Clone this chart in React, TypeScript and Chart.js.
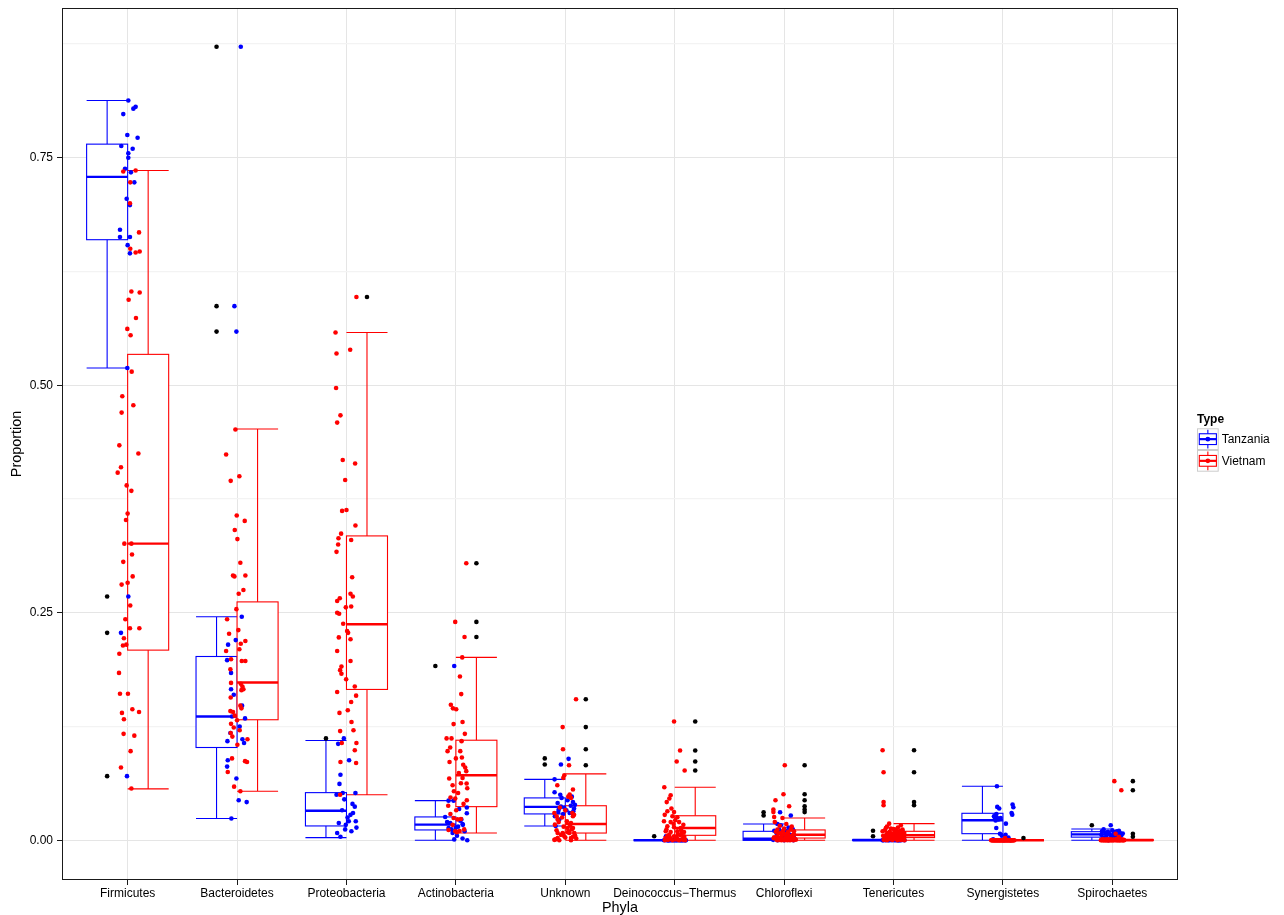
import React, { useEffect, useRef } from "react";
import { Chart, registerables } from "chart.js";

Chart.register(...registerables);

// ---------------- data ----------------
const categories = [
  "Firmicutes",
  "Bacteroidetes",
  "Proteobacteria",
  "Actinobacteria",
  "Unknown",
  "Deinococcus\u2212Thermus",
  "Chloroflexi",
  "Tenericutes",
  "Synergistetes",
  "Spirochaetes",
];
const groups = ["Tanzania", "Vietnam"];

const yMajorTicks = [0, 0.25, 0.5, 0.75];
const yTickLabels = ["0.00", "0.25", "0.50", "0.75"];
const yMinorTicks = [0.125, 0.375, 0.625, 0.875];

// box statistics (lower whisker, q1, median, q3, upper whisker)
const tzLow = [0.519, 0.024, 0.003, 0.0, 0.0158, 0, 0, 0, 0, 0];
const tzQ1 = [0.66, 0.102, 0.0158, 0.0114, 0.029, 0, 0, 0, 0.0073, 0.0035];
const tzMedian = [0.729, 0.136, 0.0325, 0.0172, 0.0367, 0, 0.0018, 0, 0.022, 0.0065];
const tzQ3 = [0.765, 0.202, 0.0524, 0.0257, 0.0466, 0, 0.0099, 0.0005, 0.0297, 0.0095];
const tzHigh = [0.813, 0.2456, 0.1097, 0.0436, 0.067, 0.0005, 0.018, 0.001, 0.0594, 0.0125];

const vnLow = [0.0565, 0.054, 0.05, 0.008, 0, 0, 0, 0, 0, 0];
const vnQ1 = [0.209, 0.1325, 0.1658, 0.037, 0.008, 0.0055, 0.0025, 0.003, 0, 0];
const vnMedian = [0.326, 0.1735, 0.2374, 0.0715, 0.018, 0.0135, 0.0062, 0.0055, 0, 0];
const vnQ3 = [0.534, 0.262, 0.3345, 0.11, 0.038, 0.027, 0.0114, 0.0099, 0, 0.0005];
const vnHigh = [0.736, 0.452, 0.558, 0.201, 0.073, 0.0583, 0.0245, 0.0183, 0, 0.001];

const tzOutliers = [
  [0.268, 0.228, 0.0705],
  [0.872, 0.587, 0.559],
  [0.112],
  [0.1915],
  [0.09, 0.0833],
  [0.0044],
  [0.0308, 0.0272],
  [0.0106, 0.0044],
  [],
  [0.0165],
];
const vnOutliers = [
  [],
  [],
  [0.597],
  [0.3045, 0.24, 0.2234],
  [0.155, 0.1244, 0.1, 0.0825],
  [0.1306, 0.0987, 0.0866, 0.0767],
  [0.0825, 0.0506, 0.044, 0.0374, 0.0338, 0.031],
  [0.099, 0.0748, 0.042, 0.0385],
  [0.0025],
  [0.065, 0.055, 0.0073, 0.004],
];

// jittered samples: [jitter (category units), proportion]
const tzFirmicutes = [
  [0.006, 0.813], [0.052, 0.804], [0.073, 0.806], [-0.04, 0.798], [-0.003, 0.775], [0.091, 0.772],
  [-0.058, 0.763], [0.046, 0.76], [0.006, 0.755], [0.006, 0.75], [-0.024, 0.738], [0.03, 0.734],
  [0.061, 0.723], [-0.009, 0.705], [0.021, 0.698], [-0.07, 0.671], [-0.07, 0.663], [0.021, 0.663],
  [0, 0.654], [0.021, 0.645], [-0.003, 0.519], [0.006, 0.268], [-0.061, 0.228], [-0.006, 0.0705],
];
const vnFirmicutes = [
  [-0.04, 0.735], [0.073, 0.736], [0.024, 0.723], [0.021, 0.7], [0.104, 0.668], [0.024, 0.65],
  [0.073, 0.646], [0.11, 0.647], [0.034, 0.603], [0.11, 0.602], [0.009, 0.594], [0.076, 0.574],
  [-0.003, 0.562], [0.027, 0.555], [0.037, 0.515], [-0.049, 0.488], [0.052, 0.478], [-0.055, 0.47],
  [-0.076, 0.434], [0.098, 0.425], [-0.061, 0.41], [-0.091, 0.404], [-0.009, 0.39], [0.034, 0.384],
  [0, 0.359], [-0.015, 0.352], [-0.03, 0.326], [0.034, 0.326], [0.04, 0.314], [-0.04, 0.306],
  [0.046, 0.29], [-0.055, 0.281], [0, 0.283], [0.024, 0.258], [-0.021, 0.243], [0.021, 0.233],
  [0.107, 0.233], [-0.034, 0.222], [-0.043, 0.214], [-0.012, 0.215], [-0.076, 0.205], [-0.079, 0.184],
  [-0.07, 0.161], [0.003, 0.161], [0.043, 0.144], [0.104, 0.141], [-0.052, 0.14], [-0.034, 0.133],
  [-0.037, 0.117], [0.061, 0.115], [0.027, 0.098], [-0.061, 0.08], [0.034, 0.057],
];
const tzBacteroidetes = [
  [0.034, 0.872], [-0.024, 0.587], [-0.006, 0.559], [0.043, 0.2456], [-0.012, 0.22], [-0.082, 0.215],
  [-0.091, 0.198], [-0.055, 0.184], [-0.03, 0.16], [-0.055, 0.166], [0.046, 0.148], [-0.046, 0.136],
  [0.073, 0.134], [0.024, 0.125], [-0.061, 0.118], [0.049, 0.111], [0.064, 0.107], [-0.088, 0.109],
  [-0.085, 0.088], [-0.091, 0.081], [-0.006, 0.068], [0.015, 0.044], [0.088, 0.042], [-0.052, 0.024],
];
const vnBacteroidetes = [
  [-0.015, 0.4515], [-0.1, 0.424], [-0.058, 0.395], [0.021, 0.4], [-0.003, 0.357], [0.07, 0.351],
  [-0.021, 0.341], [0.003, 0.331], [0.03, 0.305], [-0.037, 0.291], [-0.024, 0.29], [0.076, 0.291],
  [0.058, 0.275], [0.015, 0.271], [-0.006, 0.254], [-0.091, 0.243], [0.012, 0.231], [-0.073, 0.227],
  [0.034, 0.216], [0.076, 0.219], [-0.1, 0.208], [0.021, 0.21], [-0.055, 0.199], [0.043, 0.197],
  [0.076, 0.197], [-0.061, 0.188], [-0.055, 0.173], [0.034, 0.172], [0.049, 0.169], [0.058, 0.166],
  [0.04, 0.165], [-0.058, 0.157], [0.03, 0.148], [0.04, 0.145], [-0.061, 0.142], [-0.037, 0.141],
  [-0.021, 0.137], [0, 0.132], [-0.055, 0.128], [0.024, 0.121], [-0.03, 0.124], [-0.058, 0.118],
  [-0.043, 0.114], [0.095, 0.111], [0.003, 0.105], [-0.046, 0.09], [0.073, 0.087], [0.091, 0.086],
  [-0.085, 0.075], [-0.027, 0.059], [0.03, 0.054],
];
const tzProteobacteria = [
  [-0.024, 0.112], [-0.076, 0.106], [0.024, 0.088], [-0.055, 0.072], [-0.064, 0.062], [-0.034, 0.052],
  [-0.091, 0.05], [0.082, 0.052], [-0.02, 0.045], [0.055, 0.04], [0.076, 0.037], [-0.04, 0.033],
  [0.06, 0.03], [0.037, 0.028], [0.01, 0.025], [0.021, 0.021], [0.085, 0.021], [-0.07, 0.019],
  [-0.006, 0.017], [0.091, 0.014], [-0.012, 0.012], [0.045, 0.01], [-0.085, 0.008], [-0.055, 0.004],
];
const vnProteobacteria = [
  [0.091, 0.597], [-0.1, 0.558], [-0.091, 0.535], [0.034, 0.539], [-0.095, 0.497], [-0.055, 0.467],
  [-0.085, 0.459], [-0.034, 0.418], [0.079, 0.414], [-0.012, 0.396], [-0.04, 0.362], [0, 0.363],
  [0.082, 0.346], [-0.049, 0.337], [-0.073, 0.332], [0.043, 0.33], [-0.076, 0.325], [-0.091, 0.317],
  [0.052, 0.289], [0.037, 0.271], [0.058, 0.268], [-0.061, 0.266], [-0.085, 0.263], [-0.006, 0.256],
  [0.043, 0.257], [-0.085, 0.25], [-0.067, 0.249], [-0.03, 0.238], [0.006, 0.23], [0.015, 0.228],
  [-0.07, 0.223], [0.037, 0.221], [-0.085, 0.208], [0.037, 0.197], [-0.046, 0.191], [-0.058, 0.187],
  [-0.046, 0.183], [-0.003, 0.177], [0.076, 0.169], [-0.085, 0.163], [0.088, 0.159], [0.043, 0.152],
  [0.012, 0.143], [-0.064, 0.14], [0.046, 0.13], [-0.058, 0.12], [0.064, 0.121], [-0.043, 0.107],
  [0.091, 0.107], [0.076, 0.099], [0.088, 0.085], [-0.055, 0.086], [-0.058, 0.05],
];
const tzActinobacteria = [
  [-0.015, 0.1915], [-0.067, 0.0436], [-0.021, 0.0436], [0.03, 0.0345], [0.1, 0.036], [-0.098, 0.0257],
  [0.1, 0.0297], [0.04, 0.0216], [-0.052, 0.019], [0.061, 0.018], [-0.067, 0.0136], [0, 0.0139],
  [0.064, 0.017], [-0.04, 0.012], [0.02, 0.015], [-0.08, 0.02], [0.05, 0.023], [0.08, 0.01],
  [-0.03, 0.008], [0.01, 0.005], [-0.015, 0.001], [0.061, 0.002], [0.104, 0.0],
];
const vnActinobacteria = [
  [0.095, 0.3045], [-0.006, 0.24], [0.079, 0.2234], [0.058, 0.201], [0.037, 0.18], [0.049, 0.1607],
  [-0.046, 0.149], [-0.027, 0.145], [0.003, 0.144], [-0.021, 0.1277], [0.061, 0.13], [0.082, 0.117],
  [-0.085, 0.112], [-0.04, 0.112], [0.052, 0.109], [-0.052, 0.102], [-0.076, 0.098], [0.04, 0.098],
  [0, 0.09], [-0.058, 0.086], [0.055, 0.091], [0.067, 0.083], [0.085, 0.08], [0.027, 0.074],
  [0.095, 0.076], [0.061, 0.0686], [0.046, 0.0627], [0.098, 0.0624], [0.104, 0.0572], [-0.061, 0.068],
  [-0.03, 0.0605], [-0.018, 0.054], [0.02, 0.052], [-0.006, 0.046], [-0.049, 0.047], [0.1, 0.044],
  [0.07, 0.04], [-0.07, 0.038], [0.003, 0.033], [-0.05, 0.029], [-0.021, 0.0245], [0.015, 0.023],
  [0.046, 0.0235], [-0.03, 0.017], [0.076, 0.012], [0.034, 0.0103], [-0.067, 0.0113], [-0.006, 0.0099],
  [0.009, 0.009],
];
const tzUnknown = [
  [0.03, 0.0895], [-0.04, 0.0833], [-0.098, 0.067], [-0.098, 0.0528], [-0.046, 0.05], [0.06, 0.048],
  [-0.034, 0.0466], [0.02, 0.044], [0.07, 0.042], [-0.07, 0.041], [0.088, 0.039], [0.05, 0.038],
  [-0.04, 0.037], [-0.01, 0.036], [0.08, 0.035], [-0.06, 0.034], [0.01, 0.033], [0.073, 0.032],
  [-0.064, 0.031], [0.04, 0.03], [-0.02, 0.029], [-0.095, 0.0264], [-0.055, 0.0228], [-0.088, 0.0158],
];
const vnUnknown = [
  [0.098, 0.155], [-0.024, 0.1244], [-0.021, 0.1], [0.034, 0.0825], [-0.009, 0.0715], [-0.018, 0.0686],
  [-0.073, 0.0605], [0.07, 0.0558], [0.04, 0.0503], [0.027, 0.048], [0.052, 0.0466], [-0.05, 0.036],
  [0, 0.033], [-0.1, 0.03], [0.064, 0.03], [0.08, 0.028], [-0.079, 0.0264], [0.07, 0.0264],
  [-0.03, 0.025], [-0.07, 0.0228], [0.015, 0.021], [-0.06, 0.02], [0.052, 0.019], [-0.095, 0.0172],
  [0.045, 0.016], [-0.015, 0.015], [0.021, 0.0136], [0.07, 0.0136], [0.06, 0.012], [-0.08, 0.011],
  [0.03, 0.01], [0.025, 0.009], [-0.07, 0.008], [-0.024, 0.008], [0.037, 0.008], [0.082, 0.008],
  [-0.02, 0.007], [-0.04, 0.006], [0.09, 0.005], [-0.009, 0.0044], [0.07, 0.004], [0, 0.003],
  [-0.07, 0.0025], [0.052, 0.0025], [0.1, 0.002], [-0.09, 0.001], [-0.1, 0.0005], [-0.055, 0],
  [0.052, 0],
];
const tzDeinococcus = [
  [-0.08, 0.0044], [-0.098, 0], [-0.087, 0.0003], [-0.071, 0], [-0.064, 0], [-0.052, 0.0002],
  [-0.043, 0], [-0.031, 0], [-0.024, 0.0004], [-0.012, 0], [-0.004, 0], [0.008, 0.0002],
  [0.017, 0], [0.026, 0], [0.035, 0.0003], [0.047, 0], [0.055, 0], [0.063, 0.0001],
  [0.072, 0], [0.081, 0], [0.089, 0.0004], [0.097, 0], [0.102, 0], [-0.058, 0.0001],
];
const vnDeinococcus = [
  [-0.006, 0.1306], [0.049, 0.0987], [0.018, 0.0866], [0.091, 0.0767], [-0.095, 0.0583], [-0.037, 0.0495],
  [-0.049, 0.0459], [-0.073, 0.042], [-0.03, 0.0349], [-0.067, 0.032], [-0.006, 0.031], [-0.091, 0.028],
  [-0.021, 0.0264], [0.024, 0.0253], [0.005, 0.022], [-0.098, 0.021], [-0.037, 0.02], [0.04, 0.02],
  [-0.01, 0.018], [0.079, 0.017], [-0.067, 0.0154], [-0.006, 0.0143], [0.055, 0.0136], [-0.075, 0.012],
  [0.06, 0.011], [-0.082, 0.0099], [-0.037, 0.0092], [0.024, 0.0099], [0.085, 0.0092], [0.065, 0.008],
  [0.03, 0.007], [-0.05, 0.006], [-0.067, 0.005], [-0.006, 0.0044], [0.049, 0.0055], [0.085, 0.0044],
  [0.015, 0.0035], [-0.045, 0.003], [-0.085, 0.0025], [0.09, 0.002], [-0.037, 0.0018], [0.024, 0.0015],
  [0.07, 0.0015], [0.01, 0.001], [-0.06, 0.0005], [0.075, 0.0005], [-0.09, 0], [-0.02, 0],
  [0.04, 0], [0.095, 0],
];
const tzChloroflexi = [
  [-0.037, 0.0308], [0.061, 0.0272], [-0.061, 0.018], [-0.03, 0.0165], [0.04, 0.014], [0.08, 0.012],
  [-0.046, 0.0118], [-0.09, 0.0105], [0.02, 0.0099], [-0.07, 0.008], [0.055, 0.006], [-0.015, 0.004],
  [0.09, 0.003], [-0.08, 0.0025], [0.03, 0.002], [-0.05, 0.0018], [0.07, 0.0015], [-0.025, 0.001],
  [0.01, 0.0008], [-0.1, 0.0005], [0.045, 0.0003], [-0.06, 0], [0.085, 0], [0, 0],
];
const vnChloroflexi = [
  [0.006, 0.0825], [-0.006, 0.0506], [-0.079, 0.044], [0.046, 0.0374], [-0.098, 0.0338], [-0.098, 0.031],
  [-0.091, 0.0257], [-0.015, 0.0245], [-0.085, 0.02], [0.02, 0.018], [-0.04, 0.016], [0.07, 0.015],
  [0, 0.0128], [-0.061, 0.0118], [0.061, 0.0118], [-0.01, 0.0105], [0.09, 0.01], [-0.075, 0.0095],
  [0.035, 0.009], [-0.03, 0.008], [-0.05, 0.0075], [0.03, 0.007], [0.005, 0.0068], [0.091, 0.0062],
  [0.08, 0.0058], [-0.02, 0.0052], [0.05, 0.0047], [-0.065, 0.0042], [0.025, 0.0038], [-0.091, 0.0033],
  [-0.035, 0.003], [0.06, 0.0028], [0.015, 0.0025], [-0.095, 0.0022], [-0.046, 0.0018], [0.076, 0.0018],
  [0.1, 0.0015], [-0.005, 0.0012], [0.04, 0.001], [-0.07, 0.0008], [0.107, 0.0007], [0.015, 0.0005],
  [-0.045, 0.0003], [0.085, 0.0002], [-0.061, 0], [0, 0], [0.055, 0], [-0.025, 0], [0.03, 0],
];
const tzTenericutes = [
  [0.08, 0.0106], [-0.03, 0.0044], [-0.095, 0], [-0.07, 0.0003], [-0.05, 0], [-0.01, 0.0005],
  [0.02, 0], [0.045, 0.0002], [0.065, 0], [0.09, 0.0008], [-0.085, 0.0006], [-0.04, 0],
  [0.005, 0], [0.03, 0.0004], [0.055, 0.0001], [0.1, 0], [-0.06, 0.0009], [-0.02, 0.0002],
  [0.075, 0.0003], [-0.1, 0.0001], [0.015, 0.0007], [-0.075, 0], [0.04, 0], [0.085, 0.0005],
];
const vnTenericutes = [
  [-0.1, 0.099], [-0.091, 0.0748], [-0.091, 0.042], [-0.091, 0.0385], [-0.04, 0.0183], [0.067, 0.0165],
  [-0.06, 0.015], [0.04, 0.014], [-0.07, 0.0136], [-0.024, 0.0128], [0, 0.0125], [0.021, 0.0118],
  [0.082, 0.0118], [-0.08, 0.011], [0.06, 0.0105], [-0.1, 0.0099], [-0.035, 0.0095], [0.03, 0.009],
  [0.085, 0.0088], [-0.055, 0.008], [0.006, 0.008], [0.098, 0.008], [-0.015, 0.0075], [0.05, 0.007],
  [-0.065, 0.0065], [0.015, 0.006], [0.075, 0.0058], [-0.045, 0.0055], [-0.095, 0.005], [0.025, 0.0048],
  [-0.085, 0.0044], [-0.024, 0.0044], [0.09, 0.0042], [-0.005, 0.0038], [0.037, 0.0033], [0.098, 0.0033],
  [-0.05, 0.003], [0.055, 0.0028], [-0.075, 0.0022], [0.01, 0.002], [0.045, 0.0015], [-0.03, 0.0012],
  [0.08, 0.001], [-0.07, 0.0008], [-0.09, 0.0005], [-0.009, 0.0004], [0.067, 0.0004], [0.035, 0.0002],
  [-0.06, 0], [0.1, 0],
];
const tzSynergistetes = [
  [-0.055, 0.0594], [0.088, 0.0393], [-0.052, 0.0367], [0.095, 0.0363], [-0.034, 0.0349], [0.079, 0.03],
  [-0.06, 0.029], [0.085, 0.0282], [-0.07, 0.027], [-0.082, 0.0264], [-0.075, 0.025], [-0.052, 0.0245],
  [-0.021, 0.0245], [-0.04, 0.023], [-0.067, 0.0217], [0.027, 0.0183], [-0.061, 0.0136], [-0.027, 0.0073],
  [0.024, 0.0062], [-0.01, 0.005], [0.05, 0.003], [-0.09, 0.001], [0.01, 0], [0.07, 0],
];
const vnSynergistetes = [
  [0.02, 0.0025], [-0.108, 0], [-0.101, 0], [-0.097, 0], [-0.092, 0], [-0.086, 0], [-0.083, 0],
  [-0.079, 0], [-0.074, 0], [-0.07, 0], [-0.066, 0], [-0.061, 0], [-0.058, 0], [-0.053, 0],
  [-0.049, 0], [-0.045, 0], [-0.041, 0], [-0.036, 0], [-0.032, 0], [-0.028, 0], [-0.025, 0],
  [-0.02, 0], [-0.016, 0], [-0.012, 0], [-0.007, 0], [-0.003, 0], [0.001, 0], [0.006, 0],
  [0.009, 0], [0.014, 0], [0.018, 0], [0.023, 0], [0.027, 0], [0.031, 0], [0.035, 0],
  [0.04, 0], [0.044, 0], [0.048, 0], [0.052, 0], [0.057, 0], [0.061, 0], [0.066, 0],
  [0.07, 0], [0.074, 0], [0.078, 0], [0.083, 0], [0.087, 0], [0.092, 0], [0.097, 0], [0.104, 0],
];
const tzSpirochaetes = [
  [-0.015, 0.0165], [-0.08, 0.012], [0, 0.011], [0.06, 0.0105], [-0.095, 0.0099], [0.04, 0.0099],
  [-0.04, 0.0095], [0.02, 0.009], [-0.065, 0.0085], [-0.052, 0.008], [0.07, 0.008], [0.095, 0.0075],
  [-0.025, 0.007], [0.045, 0.0065], [-0.1, 0.006], [0.085, 0.006], [0.01, 0.0055], [-0.055, 0.005],
  [0.075, 0.0045], [-0.01, 0.004], [0.03, 0.0035], [-0.085, 0.003], [0.05, 0.002], [-0.035, 0],
];
const vnSpirochaetes = [
  [0.018, 0.065], [0.082, 0.055], [0.03, 0.0073], [0.06, 0.004], [-0.105, 0], [-0.1, 0.0005],
  [-0.094, 0], [-0.089, 0.001], [-0.084, 0], [-0.08, 0.0003], [-0.075, 0], [-0.07, 0.0008],
  [-0.066, 0], [-0.061, 0], [-0.056, 0.0005], [-0.052, 0], [-0.047, 0.001], [-0.043, 0],
  [-0.038, 0.0002], [-0.033, 0], [-0.029, 0.0006], [-0.024, 0], [-0.019, 0.0012], [-0.015, 0],
  [-0.01, 0.0004], [-0.006, 0], [-0.001, 0.0009], [0.004, 0], [0.008, 0.0003], [0.013, 0],
  [0.022, 0.0007], [0.027, 0], [0.034, 0.0015], [0.039, 0], [0.043, 0.0004], [0.048, 0],
  [0.053, 0.001], [0.057, 0], [0.065, 0.0002], [0.07, 0], [0.074, 0.0006], [0.079, 0],
  [0.086, 0.0011], [0.09, 0], [0.095, 0.0003], [0.099, 0], [0.104, 0.0005], [0.108, 0],
];

const tanzaniaPoints = [
  tzFirmicutes, tzBacteroidetes, tzProteobacteria, tzActinobacteria, tzUnknown,
  tzDeinococcus, tzChloroflexi, tzTenericutes, tzSynergistetes, tzSpirochaetes,
];
const vietnamPoints = [
  vnFirmicutes, vnBacteroidetes, vnProteobacteria, vnActinobacteria, vnUnknown,
  vnDeinococcus, vnChloroflexi, vnTenericutes, vnSynergistetes, vnSpirochaetes,
];

// ---------------- styles ----------------
const groupColors = ["#0000FF", "#FF0000"];
const groupDodge = [-0.1875, 0.1875];
const boxHalf = 0.1875;
const FONT = "'Liberation Sans', Arial, Helvetica, sans-serif";

const groupStats = [
  { low: tzLow, q1: tzQ1, med: tzMedian, q3: tzQ3, high: tzHigh },
  { low: vnLow, q1: vnQ1, med: vnMedian, q3: vnQ3, high: vnHigh },
];

const boxPlugin = {
  id: "boxplots",
  beforeDatasetsDraw(chart: any) {
    const { ctx } = chart;
    const xs = chart.scales.x;
    const ys = chart.scales.y;
    ctx.save();
    groupStats.forEach((st, g) => {
      categories.forEach((_, i) => {
        const c = i + groupDodge[g];
        const xl = xs.getPixelForValue(c - boxHalf);
        const xr = xs.getPixelForValue(c + boxHalf);
        const xc = xs.getPixelForValue(c);
        const yLo = ys.getPixelForValue(st.low[i]);
        const yQ1 = ys.getPixelForValue(st.q1[i]);
        const yMed = ys.getPixelForValue(st.med[i]);
        const yQ3 = ys.getPixelForValue(st.q3[i]);
        const yHi = ys.getPixelForValue(st.high[i]);
        ctx.strokeStyle = groupColors[g];
        ctx.lineWidth = 1.1;
        ctx.beginPath();
        ctx.moveTo(xc, yHi);
        ctx.lineTo(xc, yQ3);
        ctx.moveTo(xc, yQ1);
        ctx.lineTo(xc, yLo);
        ctx.moveTo(xl, yHi);
        ctx.lineTo(xr, yHi);
        ctx.moveTo(xl, yLo);
        ctx.lineTo(xr, yLo);
        ctx.stroke();
        ctx.fillStyle = "#FFFFFF";
        ctx.fillRect(xl, yQ3, xr - xl, yQ1 - yQ3);
        ctx.strokeRect(xl, yQ3, xr - xl, yQ1 - yQ3);
        ctx.lineWidth = 2.4;
        ctx.beginPath();
        ctx.moveTo(xl, yMed);
        ctx.lineTo(xr, yMed);
        ctx.stroke();
      });
    });
    ctx.restore();
  },
  afterDatasetsDraw(chart: any) {
    const { ctx, chartArea } = chart;
    ctx.save();
    ctx.strokeStyle = "#1a1a1a";
    ctx.lineWidth = 1;
    ctx.strokeRect(
      Math.round(chartArea.left) + 0.5,
      Math.round(chartArea.top) + 0.5,
      Math.round(chartArea.right - chartArea.left) - 1,
      Math.round(chartArea.bottom - chartArea.top) - 1
    );
    ctx.restore();
  },
};

const legendPlugin = {
  id: "typeLegend",
  afterDraw(chart: any) {
    const { ctx, chartArea } = chart;
    const left = chartArea.right + 19;
    const mid = (chartArea.top + chartArea.bottom) / 2;
    const key = 21.7;
    const firstTop = mid - 15.7;
    ctx.save();
    ctx.fillStyle = "#000";
    ctx.font = `bold 12px ${FONT}`;
    ctx.textBaseline = "alphabetic";
    ctx.textAlign = "left";
    ctx.fillText("Type", left, mid - 21.5);
    groups.forEach((name, g) => {
      const top = firstTop + g * key;
      ctx.fillStyle = "#FFFFFF";
      ctx.fillRect(left, top, key, key);
      ctx.strokeStyle = "#CCCCCC";
      ctx.lineWidth = 1;
      ctx.strokeRect(left + 0.5, top + 0.5, key - 1, key - 1);
      const cx = left + key / 2;
      const cy = top + key / 2;
      ctx.strokeStyle = groupColors[g];
      ctx.lineWidth = 1.1;
      ctx.beginPath();
      ctx.moveTo(cx, top + 1.5);
      ctx.lineTo(cx, top + key - 1.5);
      ctx.stroke();
      ctx.fillStyle = "#FFFFFF";
      ctx.fillRect(left + 2.3, cy - 5.4, key - 4.6, 10.8);
      ctx.strokeRect(left + 2.3, cy - 5.4, key - 4.6, 10.8);
      ctx.lineWidth = 2.2;
      ctx.beginPath();
      ctx.moveTo(left + 2.3, cy);
      ctx.lineTo(left + key - 2.3, cy);
      ctx.stroke();
      ctx.fillStyle = groupColors[g];
      ctx.beginPath();
      ctx.arc(cx, cy, 2.4, 0, Math.PI * 2);
      ctx.fill();
      ctx.fillStyle = "#000";
      ctx.font = `12px ${FONT}`;
      ctx.textBaseline = "middle";
      ctx.fillText(name, left + key + 3, cy + 0.5);
    });
    ctx.restore();
  },
};

function toPoints(lists: number[][][]) {
  return lists.flatMap((pts, i) => pts.map(([dx, v]) => ({ x: i + dx, y: v })));
}

function outlierPoints() {
  const out: { x: number; y: number }[] = [];
  [tzOutliers, vnOutliers].forEach((lists, g) => {
    lists.forEach((vals, i) => {
      vals.forEach((v) => out.push({ x: i + groupDodge[g], y: v }));
    });
  });
  return out;
}

export default function App() {
  const canvasRef = useRef<HTMLCanvasElement | null>(null);

  useEffect(() => {
    const canvas = canvasRef.current;
    if (!canvas) return;
    const pointStyle = (color: string) => ({
      backgroundColor: color,
      borderColor: color,
      borderWidth: 0,
      pointRadius: 2.3,
      pointHoverRadius: 2.3,
      pointBorderWidth: 0,
      showLine: false,
    });
    const chart = new Chart(canvas, {
      type: "scatter",
      data: {
        datasets: [
          { label: "outliers", data: outlierPoints(), order: 3, ...pointStyle("#000000") },
          { label: groups[0], data: toPoints(tanzaniaPoints), order: 2, ...pointStyle(groupColors[0]) },
          { label: groups[1], data: toPoints(vietnamPoints), order: 1, ...pointStyle(groupColors[1]) },
        ],
      },
      options: {
        animation: false,
        responsive: true,
        maintainAspectRatio: false,
        events: [],
        layout: { autoPadding: false, padding: { left: 0, top: 8, right: 106, bottom: 0 } },
        plugins: { legend: { display: false }, tooltip: { enabled: false } },
        scales: {
          x: {
            type: "linear",
            min: -0.6,
            max: 9.6,
            afterBuildTicks: (scale: any) => {
              scale.ticks = categories.map((_, i) => ({ value: i }));
            },
            afterFit: (scale: any) => {
              scale.height = 35;
              scale.paddingLeft = 0;
              scale.paddingRight = 0;
              scale.paddingTop = 0;
              scale.paddingBottom = 0;
            },
            border: { display: false },
            grid: {
              color: "#E5E5E5",
              lineWidth: 1,
              drawTicks: true,
              tickLength: 5,
              tickColor: "#1a1a1a",
            },
            ticks: {
              autoSkip: false,
              maxRotation: 0,
              minRotation: 0,
              padding: 1,
              color: "#000",
              font: { family: FONT, size: 12 },
              callback: (v: any) => categories[Math.round(Number(v))] ?? "",
            },
            title: {
              display: true,
              text: "Phyla",
              color: "#000",
              font: { family: FONT, size: 14.4, lineHeight: 1 },
              padding: { top: 0, bottom: 0 },
            },
          },
          y: {
            type: "linear",
            min: -0.0436,
            max: 0.9146,
            afterBuildTicks: (scale: any) => {
              scale.ticks = [...yMajorTicks, ...yMinorTicks]
                .sort((a, b) => a - b)
                .map((v) => ({ value: v }));
            },
            afterFit: (scale: any) => {
              scale.width = 62;
              scale.paddingLeft = 0;
              scale.paddingRight = 0;
              scale.paddingTop = 0;
              scale.paddingBottom = 0;
            },
            border: { display: false },
            grid: {
              color: (c: any) =>
                c.tick && yMajorTicks.includes(c.tick.value) ? "#E5E5E5" : "#F3F3F3",
              lineWidth: (c: any) => (c.tick && yMajorTicks.includes(c.tick.value) ? 1 : 1.3),
              drawTicks: true,
              tickLength: 5,
              tickColor: (c: any) =>
                c.tick && yMajorTicks.includes(c.tick.value) ? "#1a1a1a" : "rgba(0,0,0,0)",
            },
            ticks: {
              autoSkip: false,
              padding: 4,
              color: "#000",
              font: { family: FONT, size: 12 },
              callback: (v: any) => {
                const idx = yMajorTicks.indexOf(Number(v));
                return idx >= 0 ? yTickLabels[idx] : "";
              },
            },
            title: {
              display: true,
              text: "Proportion",
              color: "#000",
              font: { family: FONT, size: 14.4 },
              padding: { top: 8, bottom: 0 },
            },
          },
        },
      },
      plugins: [boxPlugin, legendPlugin],
    } as any);
    return () => chart.destroy();
  }, []);

  return (
    <div style={{ position: "absolute", left: 0, top: 0, width: 1284, height: 915, background: "#fff" }}>
      <canvas ref={canvasRef} />
    </div>
  );
}
